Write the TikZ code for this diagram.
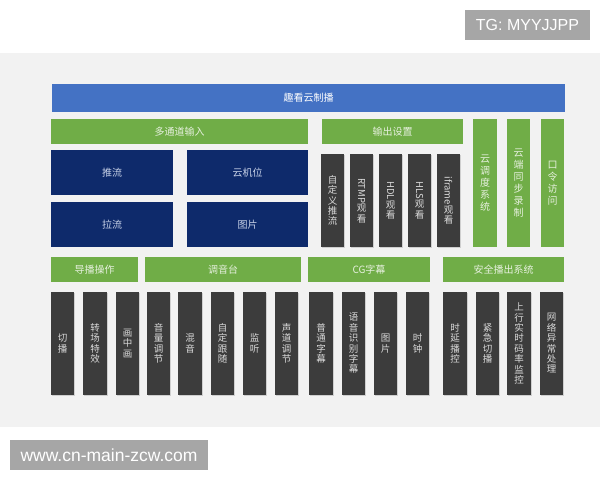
\documentclass[tikz,border=0pt]{standalone}
\usepackage{fontspec}
\usepackage{graphicx}
\newfontfamily\cjk{Noto Sans CJK SC}
\setsansfont{Liberation Sans}
\usetikzlibrary{shadows}
\definecolor{panel}{HTML}{F2F2F2}
\definecolor{topblue}{HTML}{4472C4}
\definecolor{grn}{HTML}{70AD47}
\definecolor{grntext}{HTML}{E6F0DE}
\definecolor{navy}{HTML}{0E2A6B}
\definecolor{navytext}{HTML}{C8D2E8}
\definecolor{dk}{HTML}{3C3C3C}
\definecolor{dktext}{HTML}{DADADA}
\definecolor{wm}{HTML}{A6A6A6}
\newcommand\bx[7]{\node[#2, minimum width={(#5-#3)*1pt}, minimum height={(#6-#4)*1pt}] (#1) at ({(#3+#5)/2},{(#4+#6)/2}) {#7};}
\newcommand\rl[1]{\rotatebox[origin=c]{-90}{#1}}
\begin{document}
\begin{tikzpicture}[x=1pt,y=-1pt,
  base/.style={inner sep=0pt, outer sep=0pt, align=center},
  hfont/.style={font=\cjk\fontsize{10}{12}\selectfont},
  vfont/.style={font=\cjk\fontsize{9.5}{10.4}\selectfont},
  gvfont/.style={font=\cjk\fontsize{10}{12}\selectfont},
  topbar/.style={base, hfont, fill=topblue, text=white},
  gbar/.style={base, hfont, fill=grn, text=grntext},
  gcol/.style={base, gvfont, fill=grn, text=grntext},
  nbox/.style={base, hfont, fill=navy, text=navytext},
  dbox/.style={base, vfont, fill=dk, text=dktext, drop shadow={opacity=0.3, shadow xshift=1pt, shadow yshift=-1pt}},
  wmark/.style={base, fill=wm, text=white, font=\sffamily\fontsize{16}{18}\selectfont},
  wmarkb/.style={base, fill=wm, text=white, font=\sffamily\fontsize{17.5}{19}\selectfont}
]
\useasboundingbox (0,0) rectangle (600,480);
\fill[white] (0,0) rectangle (600,480);
\fill[panel] (0,53) rectangle (600,427);

% watermarks
\bx{tg}{wmark}{465}{10}{590}{40}{TG: MYYJJPP}
\bx{www}{wmarkb}{10}{440}{208}{470}{www.cn-main-zcw.com}

% top bar
\bx{top}{topbar}{52}{84}{565}{112}{趣看云制播}

% row 2
\bx{input}{gbar}{51}{119}{308}{144}{多通道输入}
\bx{output}{gbar}{322}{119}{463}{144}{输出设置}
\bx{sched}{gcol}{473}{119}{497}{247}{云\\调\\度\\系\\统}
\bx{rec}{gcol}{507}{119}{530}{247}{云\\端\\同\\步\\录\\制}
\bx{pwd}{gcol}{541}{119}{564}{247}{口\\令\\访\\问}

\bx{push}{nbox}{51}{150}{173}{195}{推流}
\bx{cam}{nbox}{187}{150}{308}{195}{云机位}
\bx{pull}{nbox}{51}{202}{173}{247}{拉流}
\bx{pic}{nbox}{187}{202}{308}{247}{图片}

\bx{o1}{dbox}{321}{154}{344}{247}{自\\定\\义\\推\\流}
\bx{o2}{dbox}{350}{154}{373}{247}{\rl{RTMP}\\观\\看}
\bx{o3}{dbox}{379}{154}{402}{247}{\rl{HDL}\\观\\看}
\bx{o4}{dbox}{408}{154}{431}{247}{\rl{HLS}\\观\\看}
\bx{o5}{dbox}{437}{154}{460}{247}{\rl{iframe}\\观\\看}

% row 3
\bx{dir}{gbar}{51}{257}{138}{282}{导播操作}
\bx{mix}{gbar}{145}{257}{301}{282}{调音台}
\bx{cg}{gbar}{308}{257}{430}{282}{CG字幕}
\bx{safe}{gbar}{443}{257}{564}{282}{安全播出系统}

\bx{b1}{dbox}{51}{292}{74}{395}{切\\播}
\bx{b2}{dbox}{83}{292}{107}{395}{转\\场\\特\\效}
\bx{b3}{dbox}{116}{292}{139}{395}{画\\中\\画}
\bx{b4}{dbox}{147}{292}{170}{395}{音\\量\\调\\节}
\bx{b5}{dbox}{178}{292}{202}{395}{混\\音}
\bx{b6}{dbox}{211}{292}{234}{395}{自\\定\\跟\\随}
\bx{b7}{dbox}{243}{292}{266}{395}{监\\听}
\bx{b8}{dbox}{275}{292}{298}{395}{声\\道\\调\\节}
\bx{b9}{dbox}{309}{292}{333}{395}{普\\通\\字\\幕}
\bx{b10}{dbox}{342}{292}{365}{395}{语\\音\\识\\别\\字\\幕}
\bx{b11}{dbox}{374}{292}{397}{395}{图\\片}
\bx{b12}{dbox}{406}{292}{429}{395}{时\\钟}
\bx{b13}{dbox}{443}{292}{467}{395}{时\\延\\播\\控}
\bx{b14}{dbox}{476}{292}{499}{395}{紧\\急\\切\\播}
\bx{b15}{dbox}{507}{292}{531}{395}{上\\行\\实\\时\\码\\率\\监\\控}
\bx{b16}{dbox}{540}{292}{563}{395}{网\\络\\异\\常\\处\\理}
\end{tikzpicture}
\end{document}
